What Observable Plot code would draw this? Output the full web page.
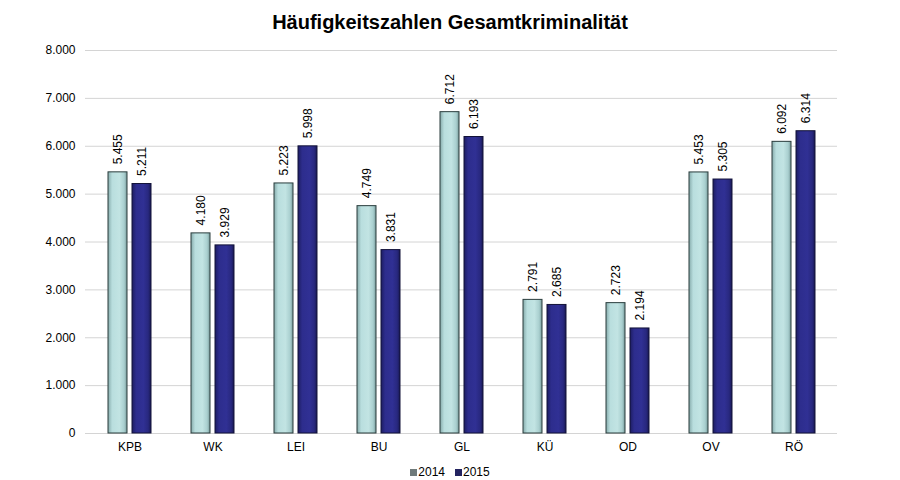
<!DOCTYPE html>
<html>
<head>
<meta charset="utf-8">
<script src="https://cdn.jsdelivr.net/npm/d3@7"></script>
<script src="https://cdn.jsdelivr.net/npm/@observablehq/plot@0.6"></script>
<style>
  body { margin: 0; background: #fff; font-family: "Liberation Sans", Arial, sans-serif; }
  #wrap { width: 900px; height: 480px; position: relative; }
  #title { height: 40px; line-height: 44px; text-align: center; font-weight: bold; font-size: 20px; color: #000; }
  #legend { position: absolute; top: 465px; left: 0; width: 900px; text-align: center; font-size: 12px; color: #000; }
  #legend span.sw { display: inline-block; width: 7px; height: 7px; margin-right: 1px; vertical-align: 0px; }
  #legend span.item { margin: 0 5px; }
</style>
</head>
<body>
<div id="wrap">
  <div id="title">Häufigkeitszahlen Gesamtkriminalität</div>
  <div id="chart"></div>
  <div id="legend"></div>
</div>
<script>
const categories = ["KPB", "WK", "LEI", "BU", "GL", "KÜ", "OD", "OV", "RÖ"];
const values2014 = [5455, 4180, 5223, 4749, 6712, 2791, 2723, 5453, 6092];
const values2015 = [5211, 3929, 5998, 3831, 6193, 2685, 2194, 5305, 6314];
const seriesNames = ["2014", "2015"];
const yTicks = [0, 1000, 2000, 3000, 4000, 5000, 6000, 7000, 8000];

const de = d3.formatLocale({decimal: ",", thousands: ".", grouping: [3], currency: ["", " €"]});
const fmt = de.format(",d");

const data = categories.map((c, i) => ({cat: c, v2014: values2014[i], v2015: values2015[i]}));

const plot = Plot.plot({
  width: 900,
  height: 420,
  marginLeft: 85,
  marginRight: 63,
  marginTop: 10,
  marginBottom: 27,
  style: {fontFamily: "'Liberation Sans', Arial, sans-serif", fontSize: "12px", color: "#000"},
  x: {domain: categories, paddingInner: 0.485, paddingOuter: 0.2425, label: null},
  y: {domain: [0, 8000], label: null},
  marks: [
    Plot.ruleY(yTicks, {stroke: "#d4d4d4", strokeWidth: 1}),
    Plot.axisY({ticks: yTicks, tickFormat: fmt, tickSize: 0, tickPadding: 10, label: null, fontSize: 12}),
    Plot.axisX({tickSize: 0, tickPadding: 9, label: null, fontSize: 12}),
    Plot.barY(data, {x: "cat", y: "v2014", fill: "url(#g2014)", stroke: "#2a3d3d", strokeWidth: 1, insetRight: 24}),
    Plot.barY(data, {x: "cat", y: "v2015", fill: "url(#g2015)", stroke: "#121238", strokeWidth: 1, insetLeft: 24}),
    Plot.text(data, {x: "cat", y: "v2014", text: d => fmt(d.v2014), rotate: -90, textAnchor: "start", lineAnchor: "middle", dx: -12, dy: -8, fontSize: 12, fill: "#000"}),
    Plot.text(data, {x: "cat", y: "v2015", text: d => fmt(d.v2015), rotate: -90, textAnchor: "start", lineAnchor: "middle", dx: 12, dy: -8, fontSize: 12, fill: "#000"})
  ]
});

const ns = "http://www.w3.org/2000/svg";
const defs = document.createElementNS(ns, "defs");
function grad(id, stops) {
  const g = document.createElementNS(ns, "linearGradient");
  g.setAttribute("id", id);
  g.setAttribute("x1", "0"); g.setAttribute("x2", "1"); g.setAttribute("y1", "0"); g.setAttribute("y2", "0");
  stops.forEach(([o, c]) => {
    const s = document.createElementNS(ns, "stop");
    s.setAttribute("offset", o); s.setAttribute("stop-color", c);
    g.appendChild(s);
  });
  defs.appendChild(g);
}
grad("g2014", [["0", "#86abab"], ["0.22", "#b9dede"], ["0.6", "#c2e4e3"], ["0.85", "#a9cfcf"], ["1", "#789b9b"]]);
grad("g2015", [["0", "#1d1d62"], ["0.22", "#2d2d8d"], ["0.6", "#303094"], ["0.85", "#28287f"], ["1", "#181852"]]);
plot.insertBefore(defs, plot.firstChild);

document.getElementById("chart").appendChild(plot);

const legendColors = ["#6f7a7a", "#232360"];
document.getElementById("legend").innerHTML = seriesNames.map((n, i) =>
  `<span class="item"><span class="sw" style="background:${legendColors[i]}"></span>${n}</span>`).join("");
</script>
</body>
</html>
